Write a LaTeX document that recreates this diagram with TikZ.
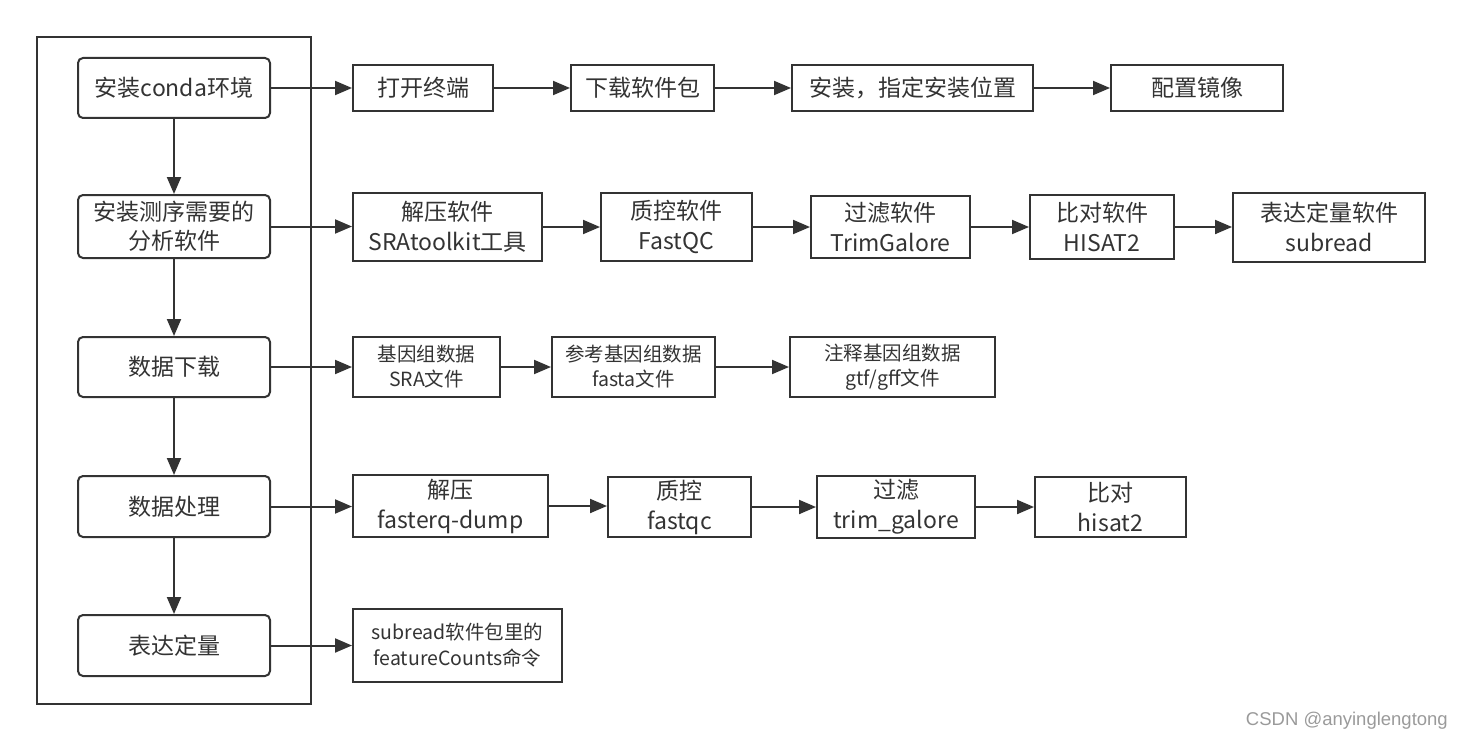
\documentclass[tikz,border=0pt]{standalone}
\usepackage{fontspec}
\setmainfont{Noto Sans CJK SC}
\newfontfamily\wmfont{Liberation Sans}
\usetikzlibrary{arrows.meta}
\definecolor{ink}{HTML}{333333}
\definecolor{wm}{HTML}{9A9A9A}
\begin{document}
\begin{tikzpicture}[x=1pt,y=-1pt,
  base/.style={draw=ink,line width=2pt,inner sep=0pt,align=center,text=ink},
  lbox/.style={base,rounded corners=5pt,minimum width=192pt,font=\fontsize{23}{29}\selectfont},
  rbox/.style={base,font=\fontsize{23}{30}\selectfont},
  sbox/.style={base,font=\fontsize{19.5}{25}\selectfont},
  mbox/.style={base,font=\fontsize{19.5}{26}\selectfont},
  arr/.style={draw=ink,line width=2pt,-{Triangle[length=17pt,width=14pt]}}]
\useasboundingbox (0,0) rectangle (1463,741);
\node[draw=ink,line width=2pt,minimum width=274pt,minimum height=667pt,inner sep=0pt] (outer) at (174,370.5) {};
% left column
\node[lbox,minimum height=60pt] (n1) at (174,88) {安装conda环境};
\node[lbox,minimum height=63pt] (n2) at (174,226.5) {安装测序需要的\\分析软件};
\node[lbox,minimum height=60pt] (n3) at (174,367) {数据下载};
\node[lbox,minimum height=61pt] (n4) at (174,506.5) {数据处理};
\node[lbox,minimum height=61pt] (n5) at (174,645.5) {表达定量};
\foreach \a/\b in {n1/n2,n2/n3,n3/n4,n4/n5}{\draw[arr] (\a.south) -- (\b.north);}
% row 1
\node[rbox,minimum width=140pt,minimum height=46pt] (a1) at (423,88) {打开终端};
\node[rbox,minimum width=143pt,minimum height=46pt] (a2) at (642.5,88) {下载软件包};
\node[rbox,minimum width=241pt,minimum height=46pt] (a3) at (912.5,88) {安装，指定安装位置};
\node[rbox,minimum width=172pt,minimum height=46pt] (a4) at (1197,88) {配置镜像};
% row 2
\node[rbox,minimum width=189pt,minimum height=68pt] (b1) at (447.5,227) {解压软件\\SRAtoolkit工具};
\node[rbox,minimum width=151pt,minimum height=68pt] (b2) at (676.5,227) {质控软件\\FastQC};
\node[rbox,minimum width=159pt,minimum height=62pt] (b3) at (890.5,227) {过滤软件\\TrimGalore};
\node[rbox,minimum width=144pt,minimum height=64pt] (b4) at (1102,227) {比对软件\\HISAT2};
\node[rbox,minimum width=192pt,minimum height=69pt] (b5) at (1329,227) {表达定量软件\\subread};
% row 3
\node[sbox,minimum width=147pt,minimum height=60pt] (c1) at (426.5,367) {基因组数据\\SRA文件};
\node[sbox,minimum width=163pt,minimum height=60pt] (c2) at (633.5,367) {参考基因组数据\\fasta文件};
\node[sbox,minimum width=205pt,minimum height=60pt] (c3) at (892.5,367) {注释基因组数据\\gtf/gff文件};
% row 4
\node[rbox,minimum width=195pt,minimum height=62pt] (d1) at (450.5,506) {解压\\fasterq-dump};
\node[rbox,minimum width=143pt,minimum height=60pt] (d2) at (679.5,507) {质控\\fastqc};
\node[rbox,minimum width=158pt,minimum height=62pt] (d3) at (896,507) {过滤\\trim\_galore};
\node[rbox,minimum width=151pt,minimum height=60pt] (d4) at (1110.5,507) {比对\\hisat2};
% row 5
\node[mbox,minimum width=209pt,minimum height=73pt] (e1) at (457.5,645.5) {subread软件包里的\\featureCounts命令};
% connectors
\draw[arr] (n1.east) -- (a1.west |- n1.east);
\foreach \a/\b in {a1/a2,a2/a3,a3/a4}{\draw[arr] (\a.east) -- (\b.west |- \a.east);}
\draw[arr] (n2.east) -- (b1.west |- n2.east);
\foreach \a/\b in {b1/b2,b2/b3,b3/b4,b4/b5}{\draw[arr] (\a.east) -- (\b.west |- \a.east);}
\draw[arr] (n3.east) -- (c1.west |- n3.east);
\foreach \a/\b in {c1/c2,c2/c3}{\draw[arr] (\a.east) -- (\b.west |- \a.east);}
\draw[arr] (n4.east) -- (d1.west |- n4.east);
\foreach \a/\b in {d1/d2,d2/d3,d3/d4}{\draw[arr] (\a.east) -- (\b.west |- \a.east);}
\draw[arr] (n5.east) -- (e1.west |- n5.east);
% watermark
\node[anchor=east,text=wm,font=\wmfont\fontsize{18.5}{20}\selectfont,inner sep=0pt] (wmk) at (1448,721) {CSDN @anyinglengtong};
\end{tikzpicture}
\end{document}
